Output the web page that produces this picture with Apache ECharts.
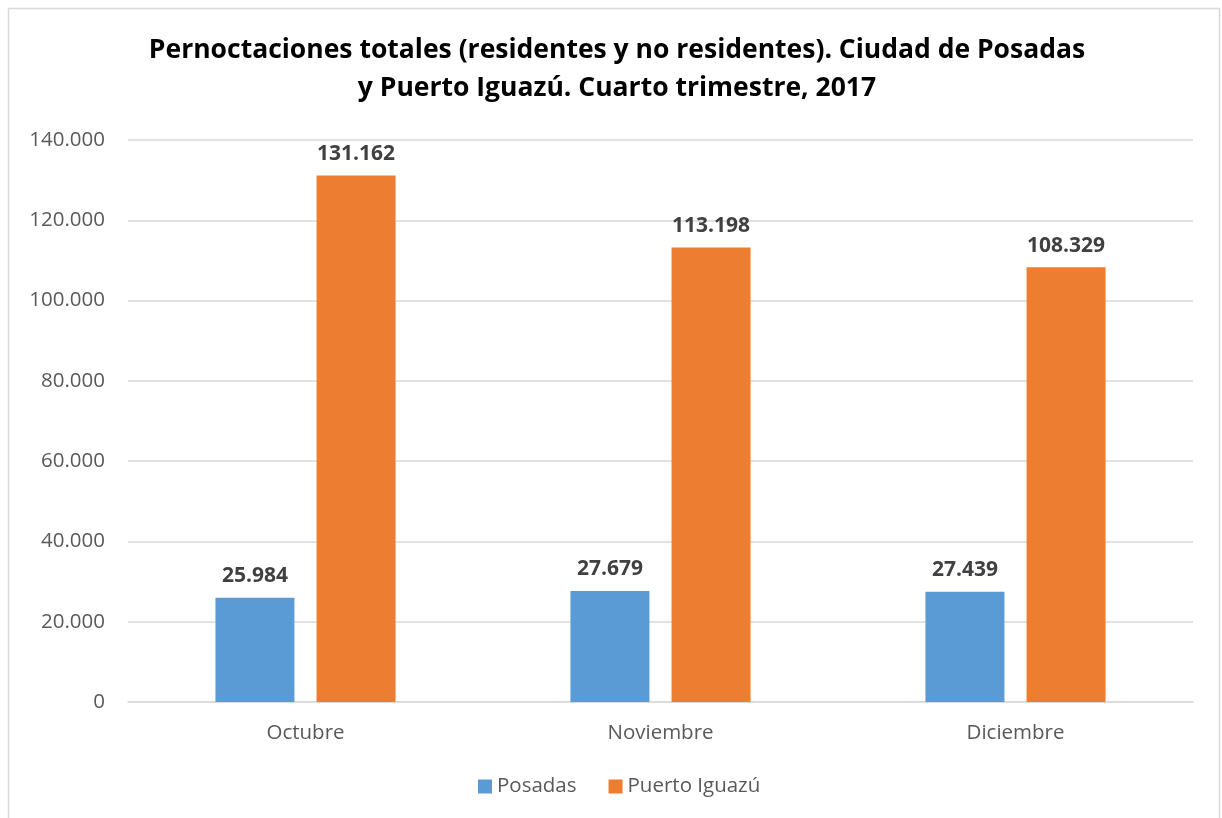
<!DOCTYPE html>
<html>
<head>
<meta charset="utf-8">
<script src="https://cdn.jsdelivr.net/npm/echarts@6/dist/echarts.min.js"></script>
<style>
  html, body { margin: 0; padding: 0; background: #fff; }
  #chart { width: 1222px; height: 818px; }
</style>
</head>
<body>
<div id="chart"></div>
<script>
// datos del gráfico
var meses = ['Octubre', 'Noviembre', 'Diciembre'];
var posadas = [25984, 27679, 27439];
var iguazu = [131162, 113198, 108329];
var seriesNames = ['Posadas', 'Puerto Iguazú'];

function miles(v) {
    // separador de miles con punto
    return String(Math.round(v)).replace(/\B(?=(\d{3})+(?!\d))/g, '.');
}

var chart = echarts.init(document.getElementById('chart'));

var labelStyle = {
    show: true,
    position: 'top',
    distance: 11,
    color: '#404040',
    fontWeight: 'bold',
    fontSize: 21,
    fontFamily: 'Open Sans',
    formatter: function (p) { return miles(p.value); }
};

var option = {
    animation: false,
    graphic: [{
        type: 'rect',
        shape: { x: 8.5, y: 8.5, width: 1211, height: 830 },
        style: { fill: 'none', stroke: '#d9d9d9', lineWidth: 1.5 }
    }],
    title: {
        text: 'Pernoctaciones totales (residentes y no residentes). Ciudad de Posadas\ny Puerto Iguazú. Cuarto trimestre, 2017',
        left: 612,
        top: 26,
        textAlign: 'center',
        textStyle: {
            color: '#000',
            fontWeight: 'bold',
            fontSize: 26.5,
            lineHeight: 38,
            fontFamily: 'Open Sans'
        }
    },
    legend: {
        bottom: 16,
        left: 473,
        itemWidth: 14,
        itemHeight: 14,
        itemGap: 32,
        icon: 'rect',
        data: seriesNames,
        textStyle: { color: '#595959', fontSize: 20.5, fontFamily: 'Open Sans' }
    },
    grid: { left: 128, right: 29, top: 140, bottom: 116 },
    xAxis: {
        type: 'category',
        data: meses,
        axisLine: { lineStyle: { color: '#d9d9d9', width: 1.5 } },
        axisTick: { show: false },
        axisLabel: { color: '#595959', fontSize: 20.5, margin: 21, fontFamily: 'Open Sans' }
    },
    yAxis: {
        type: 'value',
        min: 0,
        max: 140000,
        interval: 20000,
        axisLine: { show: false },
        axisTick: { show: false },
        splitLine: { lineStyle: { color: '#d9d9d9', width: 1.5 } },
        axisLabel: {
            color: '#595959', fontSize: 20.5, margin: 23, fontFamily: 'Open Sans',
            formatter: function (v) { return miles(v); }
        }
    },
    series: [
        {
            name: seriesNames[0],
            type: 'bar',
            data: posadas,
            barWidth: 79,
            barGap: '28%',
            itemStyle: { color: '#5b9bd5' },
            label: labelStyle
        },
        {
            name: seriesNames[1],
            type: 'bar',
            data: iguazu,
            barWidth: 79,
            itemStyle: { color: '#ed7d31' },
            label: labelStyle
        }
    ]
};

chart.setOption(option);
</script>
</body>
</html>
